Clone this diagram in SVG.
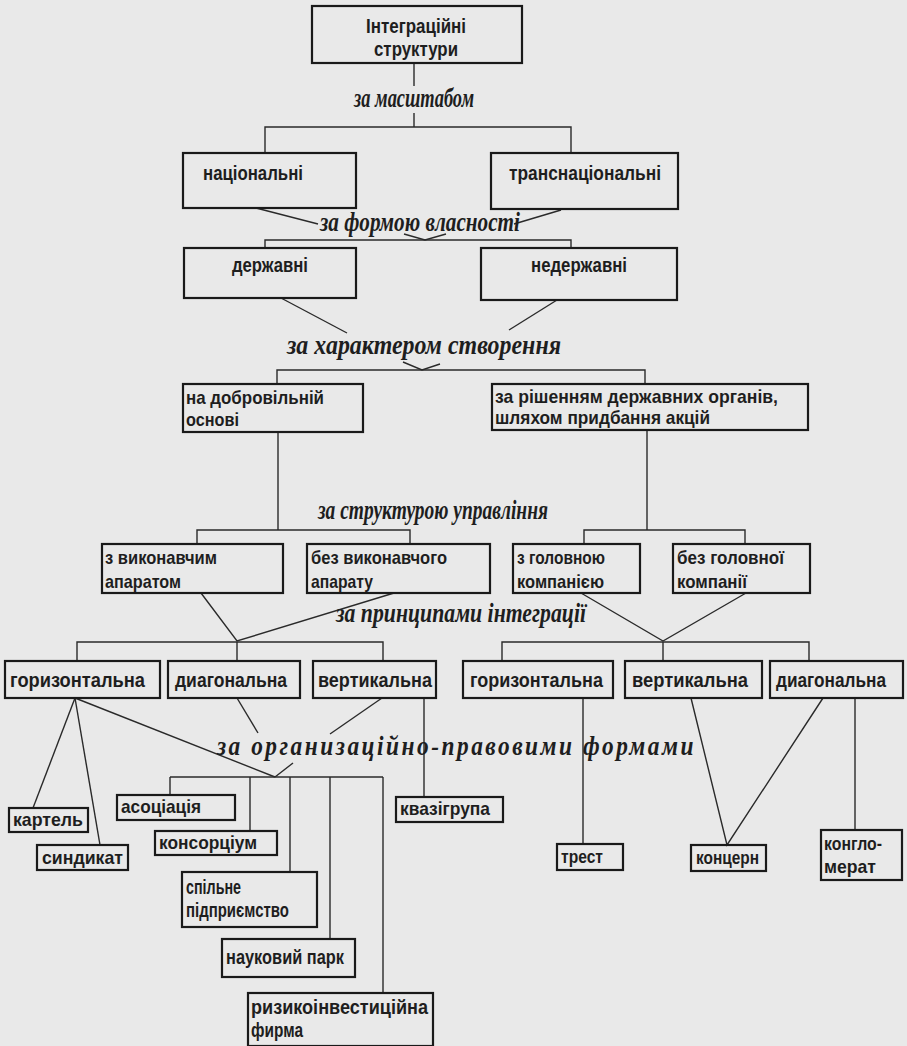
<svg xmlns="http://www.w3.org/2000/svg" width="907" height="1046" viewBox="0 0 907 1046">
<style>
.bg{fill:#e9e9e9}
.box{fill:none;stroke:#1a1a1a;stroke-width:2.2}
.c{fill:none;stroke:#2a2a2a;stroke-width:1.4}
.t{font-family:"Liberation Sans","Arial",sans-serif;font-weight:bold;font-size:20px;fill:#1e1e1e}
.s{font-size:19px}
.l{font-family:"Liberation Serif","Times New Roman",serif;font-weight:bold;font-style:italic;font-size:28px;fill:#1e1e1e}
</style>
<rect class="bg" x="0" y="0" width="907" height="1046"/>

<g id="connectors">
<polyline class="c" points="414,63 414,86"/>
<polyline class="c" points="414,113 414,127"/>
<polyline class="c" points="265,153 265,127 571,127 571,153"/>
<line class="c" x1="256" y1="208" x2="318" y2="224"/>
<line class="c" x1="561" y1="210" x2="514" y2="224"/>
<polyline class="c" points="404,234 425,240 446,234"/>
<polyline class="c" points="265,248 265,240 571,240 571,248"/>
<line class="c" x1="281" y1="298" x2="347" y2="333"/>
<line class="c" x1="557" y1="300" x2="509" y2="330"/>
<polyline class="c" points="403,362 422,370 440,364"/>
<polyline class="c" points="277,384 277,370 645,370 645,384"/>
<line class="c" x1="278" y1="432" x2="278" y2="530"/>
<line class="c" x1="647" y1="430" x2="647" y2="530"/>
<polyline class="c" points="197,544 197,530 410,530 410,544"/>
<polyline class="c" points="584,544 584,530 745,530 745,544"/>
<polyline class="c" points="201,593 237,641 394,593"/>
<polyline class="c" points="581,593 663,641 746,593"/>
<polyline class="c" points="77,661 77,642 383,642 383,661"/>
<line class="c" x1="237" y1="642" x2="237" y2="661"/>
<polyline class="c" points="502,661 502,642 809,642 809,661"/>
<line class="c" x1="663" y1="642" x2="663" y2="661"/>
<line class="c" x1="75" y1="698" x2="33" y2="808"/>
<line class="c" x1="75" y1="698" x2="100" y2="845"/>
<line class="c" x1="75" y1="698" x2="275" y2="777"/>
<line class="c" x1="237" y1="698" x2="258" y2="733"/>
<line class="c" x1="382" y1="698" x2="330" y2="734"/>
<line class="c" x1="293" y1="763" x2="275" y2="777"/>
<line class="c" x1="170" y1="777" x2="383" y2="777"/>
<line class="c" x1="170" y1="777" x2="170" y2="795"/>
<line class="c" x1="250" y1="777" x2="250" y2="831"/>
<line class="c" x1="290" y1="777" x2="290" y2="872"/>
<line class="c" x1="330" y1="777" x2="330" y2="939"/>
<line class="c" x1="383" y1="777" x2="383" y2="993"/>
<line class="c" x1="424" y1="698" x2="424" y2="797"/>
<line class="c" x1="583" y1="698" x2="583" y2="844"/>
<polyline class="c" points="691,698 727,845 823,698"/>
<line class="c" x1="855" y1="698" x2="855" y2="830"/>
</g>

<g id="labels">
<text class="l" x="354" y="107" textLength="120" lengthAdjust="spacingAndGlyphs">за масштабом</text>
<text class="l" x="320" y="231" textLength="200" lengthAdjust="spacingAndGlyphs">за формою власності</text>
<text class="l" x="287" y="354" textLength="274" lengthAdjust="spacingAndGlyphs">за характером  створення</text>
<text class="l" x="318" y="519" textLength="230" lengthAdjust="spacingAndGlyphs">за структурою  управління</text>
<text class="l" x="336" y="622" textLength="250" lengthAdjust="spacingAndGlyphs">за принципами інтеграції</text>
<text class="l" x="217" y="755" textLength="479" lengthAdjust="spacingAndGlyphs" style="letter-spacing:3px">за организаційно-правовими формами</text>
</g>

<g id="n-root"><rect class="box" x="312" y="6" width="210" height="57"/>
<text class="t" x="366" y="33" textLength="100" lengthAdjust="spacingAndGlyphs">Інтеграційні</text>
<text class="t" x="374" y="56" textLength="84" lengthAdjust="spacingAndGlyphs">структури</text></g>

<g id="n-nat"><rect class="box" x="183" y="153" width="173" height="55"/>
<text class="t" x="203" y="180" textLength="100" lengthAdjust="spacingAndGlyphs">національні</text></g>
<g id="n-trans"><rect class="box" x="491" y="153" width="187" height="56"/>
<text class="t" x="509" y="180" textLength="152" lengthAdjust="spacingAndGlyphs">транснаціональні</text></g>

<g id="n-derzh"><rect class="box" x="184" y="248" width="172" height="50"/>
<text class="t" x="232" y="272" textLength="76" lengthAdjust="spacingAndGlyphs">державні</text></g>
<g id="n-nederzh"><rect class="box" x="481" y="248" width="196" height="52"/>
<text class="t" x="531" y="272" textLength="96" lengthAdjust="spacingAndGlyphs">недержавні</text></g>

<g id="n-dobr"><rect class="box" x="183" y="384" width="180" height="48"/>
<text class="t s" x="186" y="404" textLength="138" lengthAdjust="spacingAndGlyphs">на добровільній</text>
<text class="t s" x="186" y="426" textLength="53" lengthAdjust="spacingAndGlyphs">основі</text></g>
<g id="n-rish"><rect class="box" x="492" y="384" width="316" height="46"/>
<text class="t s" x="495" y="403" textLength="283" lengthAdjust="spacingAndGlyphs">за рішенням державних органів,</text>
<text class="t s" x="495" y="424" textLength="215" lengthAdjust="spacingAndGlyphs">шляхом придбання акцій</text></g>

<g id="n-zvyk"><rect class="box" x="102" y="544" width="181" height="49"/>
<text class="t s" x="105" y="564" textLength="112" lengthAdjust="spacingAndGlyphs">з виконавчим</text>
<text class="t s" x="105" y="588" textLength="76" lengthAdjust="spacingAndGlyphs">апаратом</text></g>
<g id="n-bezvyk"><rect class="box" x="307" y="544" width="183" height="49"/>
<text class="t s" x="311" y="564" textLength="136" lengthAdjust="spacingAndGlyphs">без виконавчого</text>
<text class="t s" x="311" y="588" textLength="62" lengthAdjust="spacingAndGlyphs">апарату</text></g>
<g id="n-zgol"><rect class="box" x="513" y="544" width="127" height="49"/>
<text class="t s" x="517" y="564" textLength="88" lengthAdjust="spacingAndGlyphs">з головною</text>
<text class="t s" x="517" y="588" textLength="87" lengthAdjust="spacingAndGlyphs">компанією</text></g>
<g id="n-bezgol"><rect class="box" x="673" y="544" width="137" height="49"/>
<text class="t s" x="677" y="564" textLength="107" lengthAdjust="spacingAndGlyphs">без головної</text>
<text class="t s" x="677" y="588" textLength="70" lengthAdjust="spacingAndGlyphs">компанії</text></g>

<g id="n-hor1"><rect class="box" x="5" y="661" width="155" height="37"/>
<text class="t" x="10" y="687" textLength="135" lengthAdjust="spacingAndGlyphs">горизонтальна</text></g>
<g id="n-diag1"><rect class="box" x="168" y="661" width="132" height="37"/>
<text class="t" x="175" y="687" textLength="112" lengthAdjust="spacingAndGlyphs">диагональна</text></g>
<g id="n-vert1"><rect class="box" x="313" y="661" width="123" height="37"/>
<text class="t" x="318" y="687" textLength="114" lengthAdjust="spacingAndGlyphs">вертикальна</text></g>
<g id="n-hor2"><rect class="box" x="463" y="661" width="150" height="37"/>
<text class="t" x="470" y="687" textLength="133" lengthAdjust="spacingAndGlyphs">горизонтальна</text></g>
<g id="n-vert2"><rect class="box" x="625" y="661" width="137" height="37"/>
<text class="t" x="632" y="687" textLength="116" lengthAdjust="spacingAndGlyphs">вертикальна</text></g>
<g id="n-diag2"><rect class="box" x="770" y="661" width="133" height="37"/>
<text class="t" x="776" y="687" textLength="110" lengthAdjust="spacingAndGlyphs">диагональна</text></g>

<g id="n-kartel"><rect class="box" x="9" y="808" width="79" height="24"/>
<text class="t s" x="13" y="826" textLength="70" lengthAdjust="spacingAndGlyphs">картель</text></g>
<g id="n-syndykat"><rect class="box" x="37" y="845" width="91" height="25"/>
<text class="t s" x="42" y="864" textLength="81" lengthAdjust="spacingAndGlyphs">синдикат</text></g>
<g id="n-asoc"><rect class="box" x="117" y="795" width="118" height="25"/>
<text class="t s" x="121" y="813" textLength="80" lengthAdjust="spacingAndGlyphs">асоціація</text></g>
<g id="n-kons"><rect class="box" x="155" y="831" width="122" height="24"/>
<text class="t s" x="159" y="849" textLength="98" lengthAdjust="spacingAndGlyphs">консорціум</text></g>
<g id="n-spilne"><rect class="box" x="182" y="872" width="135" height="55"/>
<text class="t" x="186" y="894" textLength="55" lengthAdjust="spacingAndGlyphs">спільне</text>
<text class="t" x="186" y="917" textLength="103" lengthAdjust="spacingAndGlyphs">підприємство</text></g>
<g id="n-park"><rect class="box" x="222" y="939" width="133" height="38"/>
<text class="t" x="226" y="964" textLength="118" lengthAdjust="spacingAndGlyphs">науковий парк</text></g>
<g id="n-ryzyk"><rect class="box" x="248" y="993" width="185" height="53"/>
<text class="t" x="251" y="1014" textLength="177" lengthAdjust="spacingAndGlyphs">ризикоінвестиційна</text>
<text class="t" x="251" y="1037" textLength="52" lengthAdjust="spacingAndGlyphs">фирма</text></g>
<g id="n-kvazi"><rect class="box" x="396" y="797" width="107" height="25"/>
<text class="t s" x="400" y="815" textLength="90" lengthAdjust="spacingAndGlyphs">квазігрупа</text></g>
<g id="n-trest"><rect class="box" x="557" y="844" width="66" height="26"/>
<text class="t s" x="561" y="863" textLength="42" lengthAdjust="spacingAndGlyphs">трест</text></g>
<g id="n-koncern"><rect class="box" x="691" y="845" width="75" height="26"/>
<text class="t s" x="696" y="864" textLength="63" lengthAdjust="spacingAndGlyphs">концерн</text></g>
<g id="n-konglo"><rect class="box" x="821" y="830" width="81" height="50"/>
<text class="t s" x="824" y="850" textLength="58" lengthAdjust="spacingAndGlyphs">конгло-</text>
<text class="t s" x="824" y="873" textLength="52" lengthAdjust="spacingAndGlyphs">мерат</text></g>
</svg>
